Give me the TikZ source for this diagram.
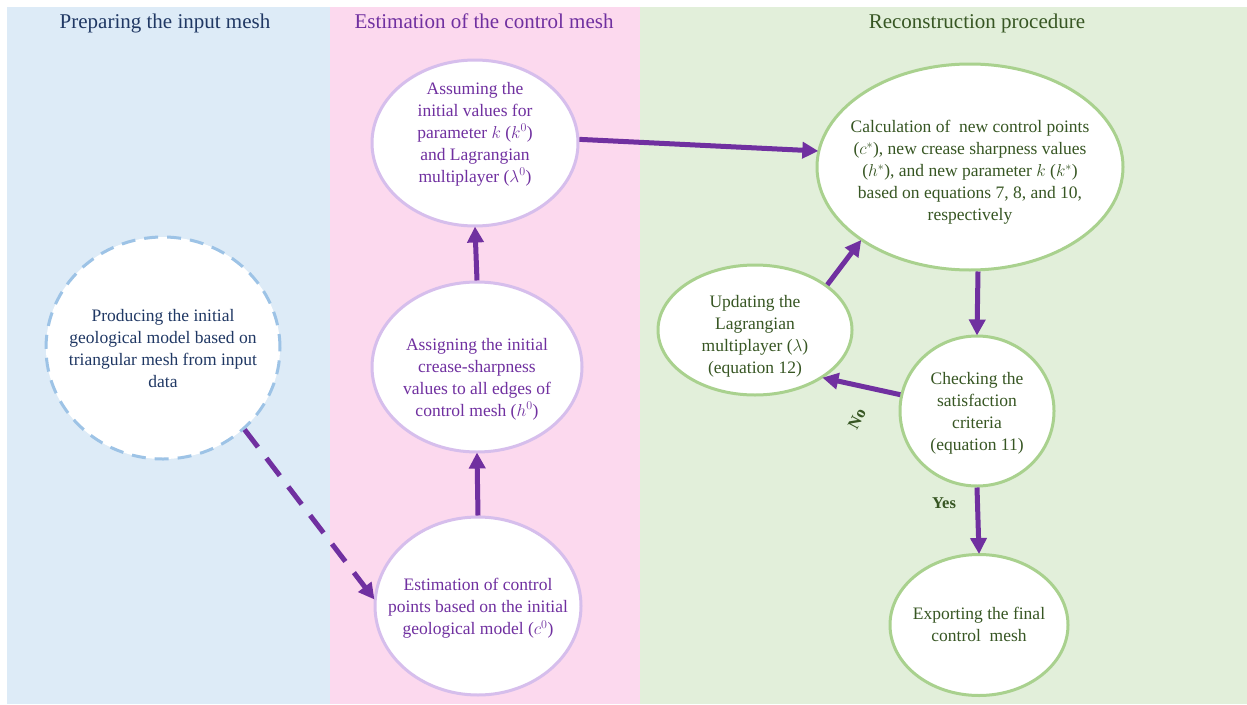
\documentclass[tikz,border=0pt]{standalone}
\usepackage{fontspec}
\setmainfont{Liberation Serif}
\newfontfamily\tnr{Liberation Serif}
\usetikzlibrary{shapes.geometric,arrows.meta}
\definecolor{pblue}{RGB}{221,235,247}
\definecolor{ppink}{RGB}{252,217,238}
\definecolor{pgreen}{RGB}{226,239,218}
\definecolor{tnavy}{RGB}{32,56,100}
\definecolor{tpurple}{RGB}{112,48,160}
\definecolor{tgreen}{RGB}{55,86,35}
\definecolor{sblue}{RGB}{157,195,230}
\definecolor{slav}{RGB}{214,190,236}
\definecolor{sgreen}{RGB}{169,209,142}
\definecolor{arr}{RGB}{112,48,160}
\tikzset{
  bubble/.style={ellipse, fill=white, line width=3pt, inner sep=0pt},
  bluebub/.style={bubble, draw=sblue, dash pattern=on 14pt off 9pt},
  lavbub/.style={bubble, draw=slav},
  greenbub/.style={bubble, draw=sgreen},
  btext/.style={align=center, inner sep=0pt, font=\tnr\fontsize{17.5}{22}\selectfont},
  title/.style={font=\tnr\fontsize{21}{24}\selectfont},
  flow/.style={draw=arr, line width=5pt, -{Triangle[length=16pt,width=16pt]}, shorten >=-1pt},
  lbl/.style={text=tgreen, inner sep=1pt, font=\tnr\fontsize{16.5}{20}\selectfont\bfseries}
}
\begin{document}
\begin{tikzpicture}[x=1pt,y=-1pt]
\useasboundingbox (0,0) rectangle (1247,704);
\fill[white] (0,0) rectangle (1247,704);
\fill[pblue] (7,7) rectangle (330,704);
\fill[ppink] (330,7) rectangle (640,704);
\fill[pgreen] (640,7) rectangle (1247,704);

\node[title, text=tnavy] (t1) at (165,23) {Preparing the input mesh};
\node[title, text=tpurple] (t2) at (484,21) {Estimation of the control mesh};
\node[title, text=tgreen] (t3) at (977,23) {Reconstruction procedure};

\node[bluebub, minimum width=234pt, minimum height=222pt] (prod) at (163,348) {};
\node[btext, text=tnavy] (prodt) at ([yshift=-1pt]prod.center)
  {Producing the initial\\geological model based on\\triangular mesh from input\\data};
\node[lavbub, minimum width=206pt, minimum height=166pt] (assume) at (475,143) {};
\node[btext, text=tpurple] (assumet) at ([yshift=9pt]assume.center)
  {Assuming the\\initial values for\\parameter $k$ ($k^0$)\\and Lagrangian\\multiplayer ($\lambda^0$)};
\node[lavbub, minimum width=210pt, minimum height=170pt] (assign) at (477,367) {};
\node[btext, text=tpurple] (assignt) at ([yshift=-12pt]assign.center)
  {Assigning the initial\\crease-sharpness\\values to all edges of\\control mesh ($h^0$)};
\node[lavbub, minimum width=206pt, minimum height=178pt] (est) at (478,606) {};
\node[btext, text=tpurple] (estt) at ([yshift=-2pt]est.center)
  {Estimation of control\\points based on the initial\\geological model ($c^0$)};
\node[greenbub, minimum width=306pt, minimum height=206pt] (calc) at (970,167) {};
\node[btext, text=tgreen] (calct) at ([yshift=-5pt]calc.center)
  {Calculation of\ \ new control points\\($c^*$), new crease sharpness values\\($h^*$), and new parameter $k$ ($k^*$)\\based on equations 7, 8, and 10,\\respectively};
\node[greenbub, minimum width=194pt, minimum height=130pt] (upd) at (755,330) {};
\node[btext, text=tgreen] (updt) at ([yshift=-6pt]upd.center)
  {Updating the\\Lagrangian\\multiplayer ($\lambda$)\\(equation 12)};
\node[greenbub, minimum width=154pt, minimum height=150pt] (check) at (977,411) {};
\node[btext, text=tgreen] (checkt) at ([yshift=-2pt]check.center)
  {Checking the\\satisfaction\\criteria\\(equation 11)};
\node[greenbub, minimum width=178pt, minimum height=141pt] (exp) at (979,625) {};
\node[btext, text=tgreen] (expt) at ([yshift=1pt]exp.center)
  {Exporting the final\\control\ \ mesh};

\draw[flow, dash pattern=on 22pt off 14pt] (prod.-45) -- (est.176);
\draw[flow] (est.north) -- (assign.south);
\draw[flow] (assign.north) -- (assume.south);
\draw[flow] (assume.2) -- (calc.174);
\draw[flow] ([xshift=8pt]calc.south) -- (check.north);
\draw[flow] (check.168) -- (upd.-35);
\draw[flow] (upd.32) -- (calc.-146);
\draw[flow] (check.south) -- (exp.north);

\node[lbl, rotate=62] (no) at (857,419) {No};
\node[lbl] (yes) at (944,503) {Yes};
\end{tikzpicture}
\end{document}
